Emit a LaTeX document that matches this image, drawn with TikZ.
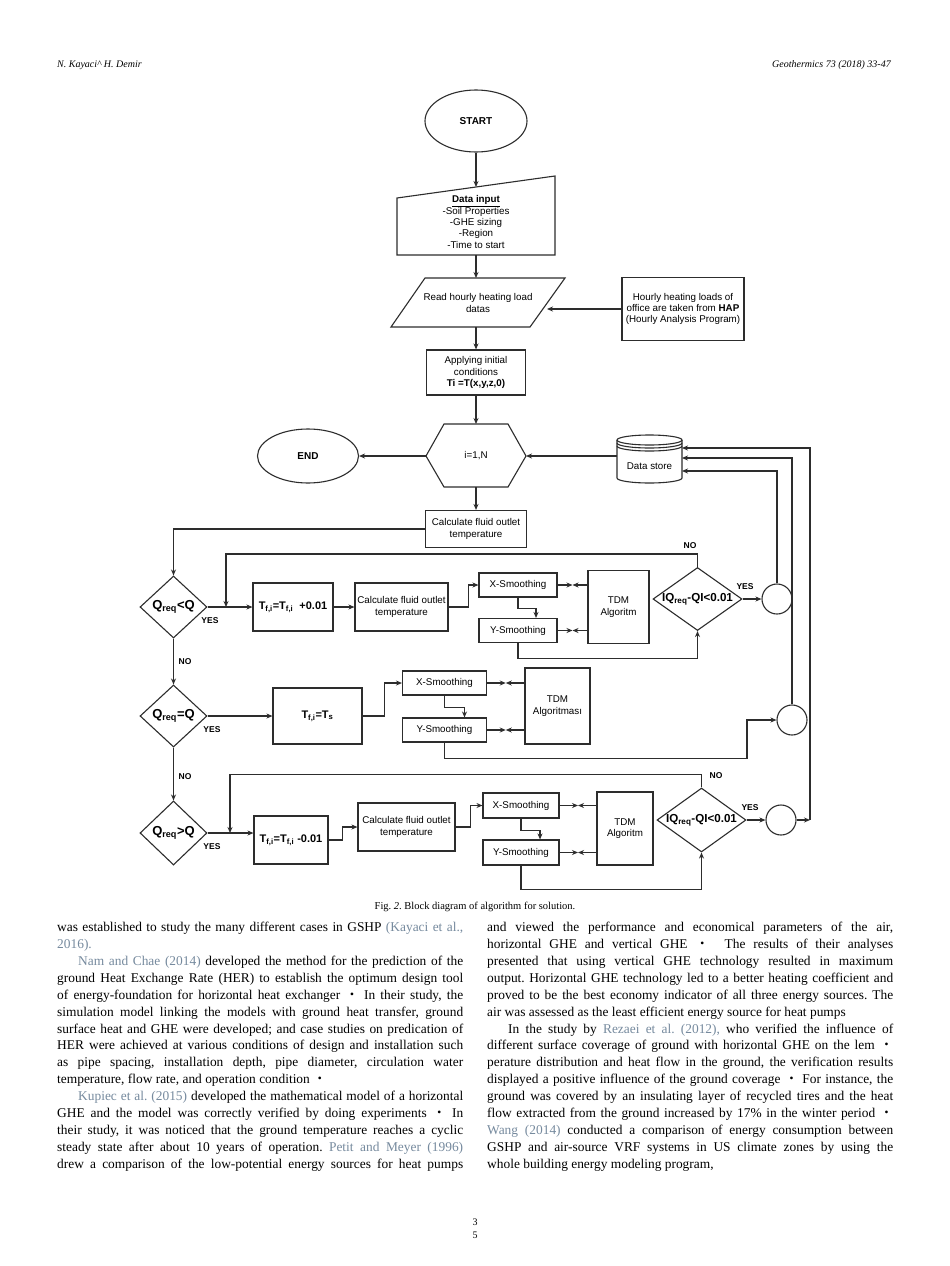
\documentclass[tikz,border=0pt]{standalone}
\usepackage{fontspec}
\setmainfont{Liberation Serif}
\setsansfont{Liberation Sans}
\newfontfamily\cjkfont{Noto Sans CJK JP}
\usetikzlibrary{positioning,arrows.meta,calc,shapes.geometric}
\definecolor{citeblue}{RGB}{118,138,158}
\definecolor{linegray}{RGB}{45,45,45}
\newcommand{\refc}[1]{\textcolor{citeblue}{#1}}
\newcommand{\kdot}{{\cjkfont ・}}
\newcommand{\fullline}[1]{\makebox[406pt][s]{#1}}
\frenchspacing
\tikzset{
	>={Stealth[length=6pt,width=5pt]}
}

\begin{document}
\begin{tikzpicture}[
	x = 1pt, y = -1pt,
	every node/.style = {
		font = \sffamily\fontsize{9.8}{11.3}\selectfont,
		inner sep = 0pt
	},
	line/.style = {
		draw = linegray,
		line width = 1.1pt
	},
	flow/.style = {
		line,
		->
	},
	box/.style = {
		line,
		align = center
	},
	term/.style = {
		box,
		ellipse,
		font = \sffamily\bfseries\fontsize{10}{12}\selectfont
	},
	cond/.style = {
		box,
		diamond,
		minimum width = 67pt,
		minimum height = 62pt
	},
	check/.style = {
		box,
		diamond,
		minimum width = 89pt,
		minimum height = 63pt
	},
	ring/.style = {
		box,
		circle,
		minimum size = 30pt
	},
	smooth/.style = {
		box,
		minimum width = 78pt,
		minimum height = 24pt
	},
	tdm/.style = {
		box,
		minimum width = 61pt,
		minimum height = 73pt
	},
	temp/.style = {
		box,
		font = \sffamily\bfseries\fontsize{11}{13}\selectfont
	},
	qlabel/.style = {
		font = \sffamily\bfseries\fontsize{13}{15}\selectfont
	},
	dlabel/.style = {
		font = \sffamily\bfseries\fontsize{11.6}{14}\selectfont
	},
	yn/.style = {
		font = \sffamily\bfseries\fontsize{8.5}{10}\selectfont
	},
	body/.style = {
		font = \rmfamily\fontsize{13.4}{16.9}\selectfont,
		align = left,
		anchor = north west
	}
	]
	
	\useasboundingbox (0,0) rectangle (950,1266);
	\fill[white] (0,0) rectangle (950,1266);
	
	% page head
	\node[font=\rmfamily\itshape\fontsize{10}{12}\selectfont, anchor=west] (authors) at (57,65) {N. Kayaci\textasciicircum\ H. Demir};
	\node[font=\rmfamily\itshape\fontsize{10}{12}\selectfont, anchor=east] (journal) at (891,65) {Geothermics 73 (2018) 33-47};
	
	% input part
	\node (start) [term, minimum width=102pt, minimum height=62pt] at (476,121) {START};
	
	\draw[line] (397,198) -- (555,176) -- (555,255) -- (397,255) -- cycle;
	\coordinate (inTop) at (476,187);
	\coordinate (inBot) at (476,255);
	\node (datain) [align=center] at (476,222) {\underline{\textbf{Data input}}\\-Soil Properties\\-GHE sizing\\-Region\\-Time to start};
	\draw[flow] (start) -- (inTop);
	
	\draw[line] (391,327) -- (425,278) -- (565,278) -- (530,327) -- cycle;
	\coordinate (readTop) at (476,278);
	\coordinate (readBot) at (476,327);
	\coordinate (readRight) at (547,309);
	\node (read) [align=center] at (478,303) {Read hourly heating load\\datas};
	\draw[flow] (inBot) -- (readTop);
	
	\node (hap) [box, minimum width=122pt, minimum height=63pt] at (683,309) {Hourly heating loads of\\office are taken from \textbf{HAP}\\(Hourly Analysis Program)};
	\draw[flow] (hap.west) -- (readRight);
	
	\node (init) [box, minimum width=99pt, minimum height=45pt] at (476,372.5) {Applying initial\\conditions\\\textbf{Ti =T(x,y,z,0)}};
	\draw[flow] (readBot) -- (init.north);
	
	% loop over hours
	\draw[line] (426,456) -- (444,424) -- (508,424) -- (526,456) -- (508,487) -- (444,487) -- cycle;
	\coordinate (hexW) at (426,456);
	\coordinate (hexE) at (526,456);
	\coordinate (hexN) at (476,424);
	\coordinate (hexS) at (476,487);
	\node (loop) at (476,456) {i=1,N};
	\draw[flow] (init.south) -- (hexN);
	
	\node (stop) [term, minimum width=101pt, minimum height=54pt] at (308,456) {END};
	\draw[flow] (hexW) -- (stop.east);
	
	\node (store) [minimum width=65pt, minimum height=48pt] at (649.5,459) {};
	\draw[line] (649.5,440) ellipse [x radius=32.5, y radius=5];
	\draw[line] (617,443) arc[start angle=180, end angle=0, x radius=32.5, y radius=5];
	\draw[line] (617,446) arc[start angle=180, end angle=0, x radius=32.5, y radius=5];
	\draw[line] (617,440) -- (617,478) arc[start angle=180, end angle=0, x radius=32.5, y radius=5] -- (682,440);
	\node (storeText) at (649.5,466) {Data store};
	\coordinate (in1) at (682,448);
	\coordinate (in2) at (682,458);
	\coordinate (in3) at (682,471);
	\draw[flow] (store.west |- hexE) -- (hexE);
	
	\node (calcA) [box, minimum width=101pt, minimum height=37pt] at (476,529) {Calculate fluid outlet\\temperature};
	\draw[flow] (hexS) -- (calcA);
	
	% row 1: Qreq < Q
	\node (qa) [cond] at (173.5,607) {};
	\node (qaText) [qlabel] at (qa) {Q\textsubscript{req}<Q};
	\node (qaYes) [yn] at (210,621) {YES};
	\draw[flow] (calcA.west) -| (qa.north);
	
	\node (ta) [temp, minimum width=80pt, minimum height=48pt] at (293,607) {T\textsubscript{f,i}=T\textsubscript{f,i}\ \ +0.01};
	\node (calcB) [box, minimum width=93pt, minimum height=48pt] at (401.5,607) {Calculate fluid outlet\\temperature};
	\node (xa) [smooth] at (518,585) {X-Smoothing};
	\node (ya) [smooth] at (518,630.5) {Y-Smoothing};
	\node (tdma) [tdm] at (618.5,607) {TDM\\Algoritm};
	\node (qb) [check] at (697.5,599) {};
	\node (qbText) [dlabel] at (qb) {IQ\textsubscript{req}-QI<0.01};
	\node (qbYes) [yn] at (745,587) {YES};
	\node (qbNo) [yn] at (690,546) {NO};
	\node (c1) [ring] at (777,599) {};
	
	\coordinate (joinA) at (226,607);
	\draw[flow] (qa.east) -- (ta.west);
	\draw[flow] (ta) -- (calcB);
	\draw[flow] (calcB.east) -- ++(20,0) |- (xa.west);
	\draw[flow] (xa.south) -- ++(0,11) -| ($(ya.north)+(18,0)$);
	\draw[flow] (ya.south) -- ++(0,15) -| (qb.south);
	\draw[flow] (qb.north) -- ++(0,-13) -| (joinA);
	\draw[flow] (qb.east) -- (c1.west);
	
	% row 2: Qreq = Q
	\node (qc) [cond] at (173.5,716) {};
	\node (qcText) [qlabel] at (qc) {Q\textsubscript{req}=Q};
	\node (qcYes) [yn] at (212,730) {YES};
	\node (qcNo) [yn] at (185,662) {NO};
	\node (tb) [temp, minimum width=89pt, minimum height=56pt] at (317.5,716) {T\textsubscript{f,i}=T\textsubscript{s}};
	\node (xb) [smooth, minimum width=84pt] at (444.5,683) {X-Smoothing};
	\node (yb) [smooth, minimum width=84pt] at (444.5,730) {Y-Smoothing};
	\node (tdmb) [tdm, minimum width=65pt, minimum height=76pt] at (557.5,706) {TDM\\Algoritması};
	\node (c2) [ring] at (792,720) {};
	
	\coordinate (stepB) at (747,720);
	\draw[flow] (qa.south) -- (qc.north);
	\draw[flow] (qc.east) -- (tb.west);
	\draw[flow] (tb.east) -- ++(22,0) |- (xb.west);
	\draw[flow] (xb.south) -- ++(0,12) -| ($(yb.north)+(20,0)$);
	\draw[flow] (yb.south) -- ++(0,16) -| (stepB) -- (c2.west);
	
	% row 3: Qreq > Q
	\node (qd) [cond, minimum height=64pt] at (173.5,833) {};
	\node (qdText) [qlabel] at (qd) {Q\textsubscript{req}>Q};
	\node (qdYes) [yn] at (212,847) {YES};
	\node (qdNo) [yn] at (185,777) {NO};
	\node (tc) [temp, minimum width=74pt, minimum height=48pt] at (291,840) {T\textsubscript{f,i}=T\textsubscript{f,i} -0.01};
	\node (calcC) [box, minimum width=97pt, minimum height=48pt] at (406.5,827) {Calculate fluid outlet\\temperature};
	\node (xc) [smooth, minimum width=76pt, minimum height=25pt] at (521,805.5) {X-Smoothing};
	\node (yc) [smooth, minimum width=76pt, minimum height=25pt] at (521,852.5) {Y-Smoothing};
	\node (tdmc) [tdm, minimum width=56pt] at (625,828.5) {TDM\\Algoritm};
	\node (qe) [check, minimum height=64pt] at (701.5,820) {};
	\node (qeText) [dlabel] at (qe) {IQ\textsubscript{req}-QI<0.01};
	\node (qeYes) [yn] at (750,808) {YES};
	\node (qeNo) [yn] at (716,776) {NO};
	\node (c3) [ring] at (781,820) {};
	
	\coordinate (joinC) at (230,833);
	\draw[flow] (qc.south) -- (qd.north);
	\draw[flow] (qd.east) -- (qd.east -| tc.west);
	\draw[flow] (tc.east) -- ++(14,0) |- (calcC.west);
	\draw[flow] (calcC.east) -- ++(15,0) |- (xc.west);
	\draw[flow] (xc.south) -- ++(0,12) -| ($(yc.north)+(19,0)$);
	\draw[flow] (yc.south) -- ++(0,24) -| (qe.south);
	\draw[flow] (qe.north) -- ++(0,-13) -| (joinC);
	\draw[flow] (qe.east) -- (c3.west);
	
	% smoothing <-> TDM
	\foreach \s/\t in {xa/tdma, ya/tdma, xb/tdmb, yb/tdmb, xc/tdmc, yc/tdmc} {
		\coordinate (meet) at ($(\s.east)!0.5!(\s.east -| \t.west)$);
		\draw[flow] (\s.east) -- (meet);
		\draw[flow] (\s.east -| \t.west) -- (meet);
	}
	
	% back to data store
	\coordinate (rail) at (810,820);
	\draw[flow] (c1.north) |- (in3);
	\draw[flow] (c2.north) |- (in2);
	\draw[flow] (c3.east) -- (rail);
	\draw[flow] (rail) |- (in1);
	
	% caption and text
	\node (caption) [font=\rmfamily\fontsize{10.5}{12}\selectfont] at (475,907) {Fig. \textit{2}. Block diagram of algorithm for solution.};
	
	\node (colLeft) [body] at (57,922) {%
		\fullline{was established to study the many different cases in GSHP \refc{(Kayaci et al.,}}\\
		\refc{2016).}\\
		\fullline{\hspace{21pt}\refc{Nam and Chae (2014)} developed the method for the prediction of the}\\
		\fullline{ground Heat Exchange Rate (HER) to establish the optimum design tool}\\
		\fullline{of energy-foundation for horizontal heat exchanger \kdot\ In their study, the}\\
		\fullline{simulation model linking the models with ground heat transfer, ground}\\
		\fullline{surface heat and GHE were developed; and case studies on predication of}\\
		\fullline{HER were achieved at various conditions of design and installation such}\\
		\fullline{as pipe spacing, installation depth, pipe diameter, circulation water}\\
		temperature, flow rate, and operation condition \kdot\\
		\fullline{\hspace{21pt}\refc{Kupiec et al. (2015)} developed the mathematical model of a horizontal}\\
		\fullline{GHE and the model was correctly verified by doing experiments \kdot\ In}\\
		\fullline{their study, it was noticed that the ground temperature reaches a cyclic}\\
		\fullline{steady state after about 10 years of operation. \refc{Petit and Meyer (1996)}}\\
		\fullline{drew a comparison of the low-potential energy sources for heat pumps}};
	
	\node (colRight) [body] at (487,922) {%
		\fullline{and viewed the performance and economical parameters of the air,}\\
		\fullline{horizontal GHE and vertical GHE \kdot\ \ The results of their analyses}\\
		\fullline{presented that using vertical GHE technology resulted in maximum}\\
		\fullline{output. Horizontal GHE technology led to a better heating coefficient and}\\
		\fullline{proved to be the best economy indicator of all three energy sources. The}\\
		air was assessed as the least efficient energy source for heat pumps\\
		\fullline{\hspace{21pt}In the study by \refc{Rezaei et al. (2012),} who verified the influence of}\\
		\fullline{different surface coverage of ground with horizontal GHE on the lem \kdot}\\
		\fullline{perature distribution and heat flow in the ground, the verification results}\\
		\fullline{displayed a positive influence of the ground coverage \kdot\ For instance, the}\\
		\fullline{ground was covered by an insulating layer of recycled tires and the heat}\\
		\fullline{flow extracted from the ground increased by 17\% in the winter period \kdot}\\
		\fullline{\refc{Wang (2014)} conducted a comparison of energy consumption between}\\
		\fullline{GSHP and air-source VRF systems in US climate zones by using the}\\
		whole building energy modeling program,};
	
	% page number
	\node (pageA) [font=\rmfamily\fontsize{10}{12}\selectfont] at (475,1222) {3};
	\node (pageB) [font=\rmfamily\fontsize{10}{12}\selectfont] at (475,1235) {5};
	
\end{tikzpicture}
\end{document}
